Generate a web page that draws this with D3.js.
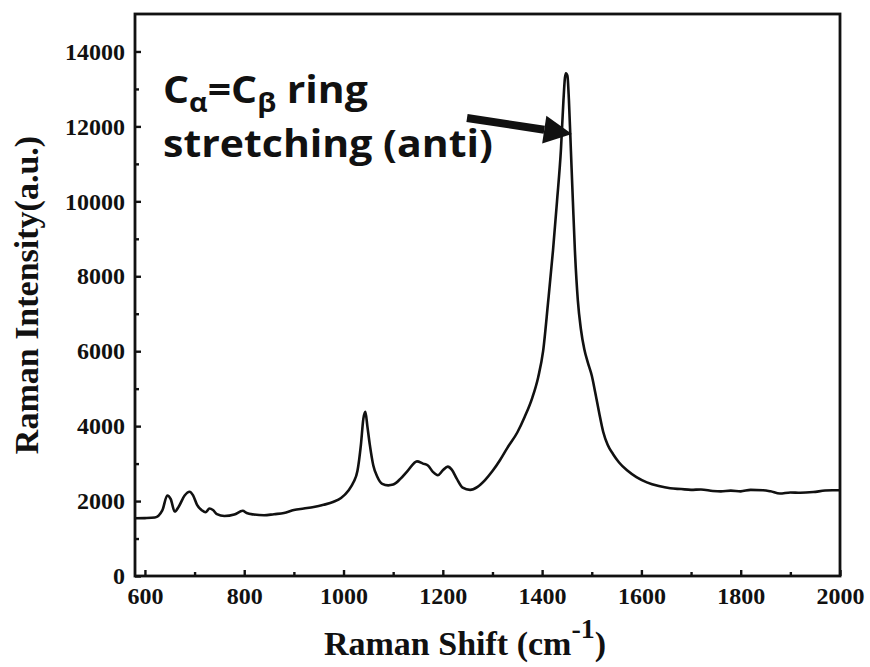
<!DOCTYPE html>
<html>
<head>
<meta charset="utf-8">
<script src="https://cdn.jsdelivr.net/npm/d3@7/dist/d3.min.js"></script>
<style>
  html, body { margin: 0; padding: 0; background: #fff; }
  svg { display: block; }
  .tick text { font-family: "Liberation Serif", "Times New Roman", serif; font-weight: bold; font-size: 24px; fill: #111; }
</style>
</head>
<body>
<svg id="chart" width="870" height="667"></svg>
<script>
// Raman spectrum: wavenumber (cm^-1) and intensity (a.u.)
const shift = [
  580, 600, 620, 635, 645, 652, 660, 668, 680, 690, 697, 705, 715, 722, 730, 737, 745,
  760, 780, 797, 805, 820, 840, 860, 880, 900, 920, 940, 960, 980, 995,
  1010, 1020, 1028, 1035, 1040, 1044, 1048, 1053, 1060, 1068, 1078, 1090, 1100,
  1115, 1130, 1148, 1160, 1170, 1180, 1190, 1200, 1210, 1218, 1228, 1240, 1255,
  1270, 1285, 1300, 1315, 1330, 1350, 1365, 1380, 1392, 1402, 1412, 1422, 1430,
  1438, 1443, 1446, 1448, 1451, 1454, 1458, 1462, 1466, 1472, 1478, 1485, 1492,
  1500, 1507, 1515, 1523, 1532, 1543, 1555, 1571, 1590, 1611, 1635, 1658, 1680,
  1700, 1720, 1744, 1760, 1780, 1800, 1820, 1845, 1860, 1879, 1900, 1920, 1946,
  1970, 1985, 2000
];
const intensity = [
  1540, 1545, 1560, 1750, 2150, 2050, 1720, 1850, 2150, 2250, 2150, 1900, 1750, 1700, 1800, 1760, 1650,
  1600, 1640, 1740, 1680, 1640, 1620, 1650, 1680, 1760, 1800, 1840, 1900, 1980, 2080,
  2280, 2500, 2800, 3500, 4200, 4380, 4000, 3500, 2950, 2650, 2460, 2420, 2440,
  2600, 2820, 3060, 3000, 2950, 2780, 2690, 2820, 2920, 2840, 2600, 2360, 2300,
  2380, 2560, 2800, 3090, 3420, 3830, 4250, 4750, 5300, 6000, 7300, 8700, 10000,
  11400, 12700, 13300, 13420, 13350, 12700, 11350, 10000, 8700, 7350, 6600, 6050, 5700,
  5350, 4900, 4350, 3850, 3500, 3250, 3030, 2820, 2640, 2500, 2400, 2340, 2320,
  2300, 2310, 2270, 2260, 2280, 2260, 2300, 2290, 2260, 2200, 2230, 2220, 2240,
  2280, 2290, 2290
];

// Axis ticks
const xMajor = [600, 800, 1000, 1200, 1400, 1600, 1800, 2000];
const xMinor = [700, 900, 1100, 1300, 1500, 1700, 1900];
const yMajor = [0, 2000, 4000, 6000, 8000, 10000, 12000, 14000];
const yMinor = [1000, 3000, 5000, 7000, 9000, 11000, 13000];

const xTitle = "Raman Shift (cm";
const yTitle = "Raman Intensity(a.u.)";

const svg = d3.select("#chart");
const plot = { left: 135, right: 840, top: 14, bottom: 576 };

const x = d3.scaleLinear().domain([580, 2000]).range([plot.left, plot.right]);
const y = d3.scaleLinear().domain([0, 15000]).range([plot.bottom, plot.top]);

// Ticks point inward
const gx = svg.append("g").attr("transform", `translate(0,${plot.bottom})`);
gx.call(d3.axisBottom(x).tickValues(xMajor).tickSize(-6).tickPadding(11).tickFormat(d3.format("d")));
const gxm = svg.append("g").attr("transform", `translate(0,${plot.bottom})`);
gxm.call(d3.axisBottom(x).tickValues(xMinor).tickSize(-4).tickFormat(""));

const gy = svg.append("g").attr("transform", `translate(${plot.left},0)`);
gy.call(d3.axisLeft(y).tickValues(yMajor).tickSize(-6).tickPadding(10).tickFormat(d3.format("d")));
const gym = svg.append("g").attr("transform", `translate(${plot.left},0)`);
gym.call(d3.axisLeft(y).tickValues(yMinor).tickSize(-4).tickFormat(""));

svg.selectAll(".domain").remove();
svg.selectAll(".tick line").attr("stroke", "#111").attr("stroke-width", 2.4);
svg.selectAll(".tick text").attr("fill", "#111");

// Spectrum line
const data = shift.map((s, i) => ({ s, v: intensity[i] }));
svg.append("path")
  .datum(data)
  .attr("fill", "none")
  .attr("stroke", "#111")
  .attr("stroke-width", 2.6)
  .attr("stroke-linejoin", "round")
  .attr("d", d3.line().x(d => x(d.s)).y(d => y(d.v)).curve(d3.curveMonotoneX));

// Frame
svg.append("rect")
  .attr("x", plot.left).attr("y", plot.top)
  .attr("width", plot.right - plot.left).attr("height", plot.bottom - plot.top)
  .attr("fill", "none").attr("stroke", "#111").attr("stroke-width", 2.8);

// Axis titles
const serif = "'Liberation Serif', 'Times New Roman', serif";
const xt = svg.append("text")
  .attr("x", 465).attr("y", 655)
  .attr("text-anchor", "middle")
  .attr("font-family", serif).attr("font-weight", "bold").attr("font-size", 34)
  .attr("fill", "#111");
xt.append("tspan").text(xTitle);
xt.append("tspan").attr("font-size", 28).attr("dy", -17).text("-1");
xt.append("tspan").attr("dy", 17).text(")");

svg.append("text")
  .attr("transform", `translate(38,${(plot.top + plot.bottom) / 2}) rotate(-90)`)
  .attr("text-anchor", "middle")
  .attr("font-family", serif).attr("font-weight", "bold").attr("font-size", 34)
  .attr("fill", "#111")
  .text(yTitle);

// Annotation for the main band; each line is stretched to its box width
const sans = "'Open Sans', Lato, sans-serif";
function fitLine(left, baseline, width, build) {
  const g = svg.append("g");
  const t = g.append("text")
    .attr("x", 0).attr("y", 0)
    .attr("font-family", sans).attr("font-weight", "bold").attr("font-size", 37)
    .attr("fill", "#111");
  build(t);
  const w = t.node().getBBox().width;
  g.attr("transform", `translate(${left},${baseline}) scale(${width / w},1)`);
}
fitLine(163, 103, 205, t => {
  t.append("tspan").text("C");
  t.append("tspan").attr("font-size", 26).attr("dy", 9).text("α");
  t.append("tspan").attr("dy", -9).text("=C");
  t.append("tspan").attr("font-size", 26).attr("dy", 9).text("β");
  t.append("tspan").attr("dy", -9).text(" ring");
});
fitLine(163, 157, 330, t => t.text("stretching (anti)"));

// Arrow pointing at the 1450 cm^-1 band
const tail = [467, 118], tip = [x(1448) + 6, y(11800)];
const ang = Math.atan2(tip[1] - tail[1], tip[0] - tail[0]);
const headLen = 28, headHalf = 14;
const base = [tip[0] - headLen * Math.cos(ang), tip[1] - headLen * Math.sin(ang)];
svg.append("line")
  .attr("x1", tail[0]).attr("y1", tail[1]).attr("x2", base[0]).attr("y2", base[1])
  .attr("stroke", "#111").attr("stroke-width", 8);
svg.append("path")
  .attr("fill", "#111")
  .attr("d", `M${tip[0]},${tip[1]}L${base[0] + headHalf * Math.sin(ang)},${base[1] - headHalf * Math.cos(ang)}L${base[0] - headHalf * Math.sin(ang)},${base[1] + headHalf * Math.cos(ang)}Z`);
</script>
</body>
</html>
